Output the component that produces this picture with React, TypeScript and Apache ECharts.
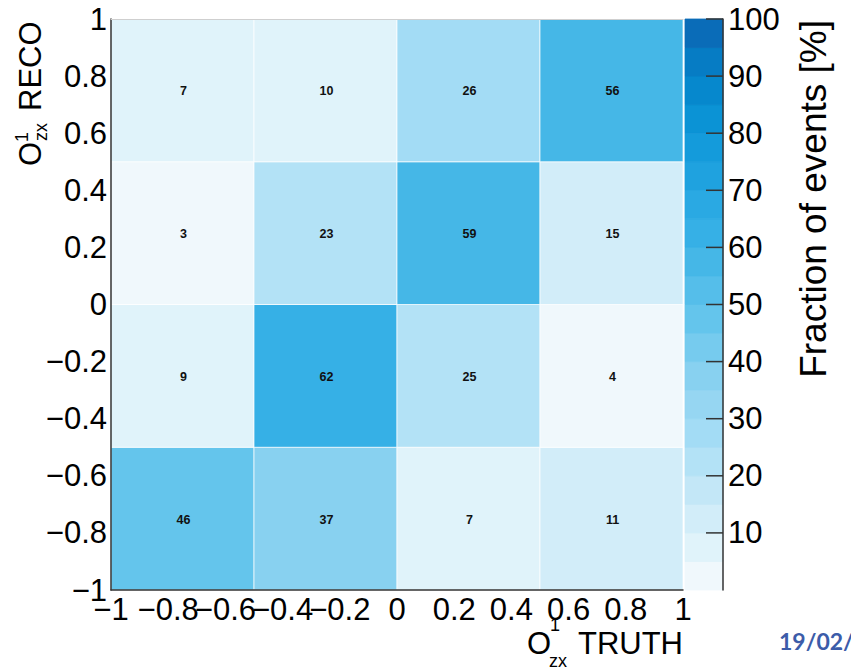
import React, { useEffect, useRef } from "react";
import * as echarts from "echarts";

// Bin edges of the 2D histogram (O^1_zx TRUTH on x, O^1_zx RECO on y)
const xEdges = [-1, -0.5, 0, 0.5, 1];
const yEdges = [-1, -0.5, 0, 0.5, 1];
// Fraction of events [%], rows from bottom (RECO -1..-0.5) to top (RECO 0.5..1)
const rowBottom = [46, 37, 7, 11];
const rowLow = [9, 62, 25, 4];
const rowHigh = [3, 23, 59, 15];
const rowTop = [7, 10, 26, 56];
const rows = [rowBottom, rowLow, rowHigh, rowTop];

// Colour scale (20 bands of 5 %, bottom to top)
const colorbarMin = 0;
const colorbarMax = 100;
const bandStep = 5;
const colorbarTicks = [10, 20, 30, 40, 50, 60, 70, 80, 90, 100];
const palette = [
  "#f0f8fc", "#e0f3fa", "#d2edf9", "#c3e7f7", "#b3e2f6",
  "#a3dcf5", "#96d6f2", "#88d1f0", "#76cbee", "#64c5ec",
  "#55beea", "#45b7e7", "#36b0e6", "#2aa9e3", "#1fa2df",
  "#149bdb", "#0b93d5", "#0688cd", "#067cc4", "#0a6cb8",
];

const FONT = "'Liberation Sans', Arial, Helvetica, sans-serif";

function colorFor(v: number): string {
  const idx = Math.min(palette.length - 1, Math.max(0, Math.ceil(v / bandStep) - 1));
  return palette[idx];
}

function fmtTick(v: number): string {
  const r = Math.round(v * 10) / 10;
  if (Math.abs(r) < 1e-9) return "0";
  return String(r).replace("-", "\u2212");
}

export default function App() {
  const ref = useRef<HTMLDivElement>(null);

  useEffect(() => {
    if (!ref.current) return;
    const chart = echarts.init(ref.current, null, { renderer: "svg" });

    const cellData: number[][] = [];
    rows.forEach((row, r) => {
      row.forEach((v, c) => {
        cellData.push([xEdges[c], xEdges[c + 1], yEdges[r], yEdges[r + 1], v]);
      });
    });
    const bandData: number[][] = palette.map((_, i) => [
      0,
      1,
      colorbarMin + i * bandStep,
      colorbarMin + (i + 1) * bandStep,
      i,
    ]);
    const tickData: number[][] = colorbarTicks.map((t) => [1, t]);

    const mainAxisLabel = {
      fontSize: 31,
      color: "#000",
      fontFamily: FONT,
      formatter: fmtTick,
      hideOverlap: false,
      showMinLabel: true,
      showMaxLabel: true,
    };

    const txt = (text: string, x: number, y: number, size: number, align: string, rot = 0, extra: any = {}) => ({
      type: "text",
      x,
      y,
      rotation: rot,
      silent: true,
      style: {
        text,
        fontSize: size,
        fontFamily: FONT,
        fill: "#000",
        align,
        textAlign: align,
        verticalAlign: "middle",
        textVerticalAlign: "middle",
        ...extra,
      },
    });

    const R = Math.PI / 2;

    chart.setOption({
      animation: false,
      backgroundColor: "#fff",
      grid: [
        { left: 111, top: 19, width: 572, height: 571, containLabel: false },
        { left: 685, top: 19, width: 38, height: 571, containLabel: false },
      ],
      xAxis: [
        {
          type: "value",
          gridIndex: 0,
          min: -1,
          max: 1,
          interval: 0.2,
          z: 5,
          axisLine: { show: true, onZero: false, lineStyle: { color: "#333", width: 1.5 } },
          axisTick: { show: false },
          splitLine: { show: false },
          axisLabel: { ...mainAxisLabel, margin: 4 },
        },
        {
          type: "value",
          gridIndex: 0,
          position: "top",
          min: -1,
          max: 1,
          z: 5,
          axisLine: { show: true, onZero: false, lineStyle: { color: "#cfcfcf", width: 1 } },
          axisTick: { show: false },
          axisLabel: { show: false },
          splitLine: { show: false },
        },
        {
          type: "value",
          gridIndex: 1,
          min: 0,
          max: 1,
          show: false,
        },
      ],
      yAxis: [
        {
          type: "value",
          gridIndex: 0,
          min: -1,
          max: 1,
          interval: 0.2,
          z: 5,
          axisLine: { show: true, onZero: false, lineStyle: { color: "#333", width: 1.5 } },
          axisTick: { show: false },
          splitLine: { show: false },
          axisLabel: { ...mainAxisLabel, margin: 4 },
        },
        {
          type: "value",
          gridIndex: 1,
          position: "right",
          min: colorbarMin,
          max: colorbarMax,
          interval: 10,
          z: 5,
          axisLine: { show: true, onZero: false, lineStyle: { color: "#333", width: 1.5 } },
          axisTick: { show: false },
          splitLine: { show: false },
          axisLabel: {
            fontSize: 31,
            color: "#000",
            fontFamily: FONT,
            margin: 5,
            showMaxLabel: true,
            formatter: (v: number) => (v === 0 ? "" : String(v)),
          },
        },
      ],
      series: [
        {
          type: "custom",
          xAxisIndex: 0,
          yAxisIndex: 0,
          data: cellData,
          encode: { x: [0, 1], y: [2, 3] },
          renderItem: (params: any, api: any) => {
            const x0 = api.value(0);
            const x1 = api.value(1);
            const y0 = api.value(2);
            const y1 = api.value(3);
            const v = api.value(4);
            const a = api.coord([x0, y1]);
            const b = api.coord([x1, y0]);
            return {
              type: "group",
              children: [
                {
                  type: "rect",
                  shape: { x: a[0], y: a[1], width: b[0] - a[0], height: b[1] - a[1] },
                  style: { fill: colorFor(v), stroke: "rgba(255,255,255,0.7)", lineWidth: 1 },
                },
                {
                  type: "text",
                  x: (a[0] + b[0]) / 2 + 1,
                  y: (a[1] + b[1]) / 2 + 1,
                  style: {
                    text: String(v),
                    fontSize: 12.5,
                    fontWeight: "bold",
                    fontFamily: FONT,
                    fill: "#111",
                    align: "center",
                    textAlign: "center",
                    verticalAlign: "middle",
                    textVerticalAlign: "middle",
                  },
                },
              ],
            };
          },
        },
        {
          type: "custom",
          xAxisIndex: 2,
          yAxisIndex: 1,
          data: bandData,
          encode: { x: [0, 1], y: [2, 3] },
          renderItem: (params: any, api: any) => {
            const a = api.coord([api.value(0), api.value(3)]);
            const b = api.coord([api.value(1), api.value(2)]);
            const c = palette[api.value(4)];
            return {
              type: "rect",
              shape: { x: a[0], y: a[1], width: b[0] - a[0], height: b[1] - a[1] },
              style: { fill: c, stroke: c, lineWidth: 0.8 },
            };
          },
        },
        {
          type: "custom",
          xAxisIndex: 2,
          yAxisIndex: 1,
          data: tickData,
          encode: { x: 0, y: 1 },
          z: 4,
          renderItem: (params: any, api: any) => {
            const p = api.coord([api.value(0), api.value(1)]);
            return {
              type: "line",
              shape: { x1: p[0] - 17, y1: p[1], x2: p[0], y2: p[1] },
              style: { stroke: "#333", lineWidth: 1.5 },
            };
          },
        },
      ],
      graphic: [
        // y-axis title: O^1_zx RECO
        txt("O", 30.5, 166, 31, "left", R),
        txt("1", 22, 142, 18, "left", R),
        txt("zx", 41, 141, 18, "left", R),
        txt("RECO", 30.5, 111, 31, "left", R),
        // x-axis title: O^1_zx TRUTH
        txt("O", 527, 643, 31, "left"),
        txt("1", 550, 625, 18, "left"),
        txt("zx", 549, 661, 18, "left"),
        txt("TRUTH", 683, 643, 31, "right"),
        // colour bar title
        txt("Fraction of events [%]", 813, 20, 37, "right", R),
        // slide footer fragment
        txt("19/02/", 779, 641, 23, "left", 0, { fontWeight: "bold", fill: "#3c5ca9", fontFamily: "Lato, 'Open Sans', sans-serif" }),
      ],
    });

    return () => chart.dispose();
  }, []);

  return (
    <div
      ref={ref}
      style={{ position: "fixed", left: 0, top: 0, width: 851, height: 670, background: "#fff" }}
    />
  );
}
